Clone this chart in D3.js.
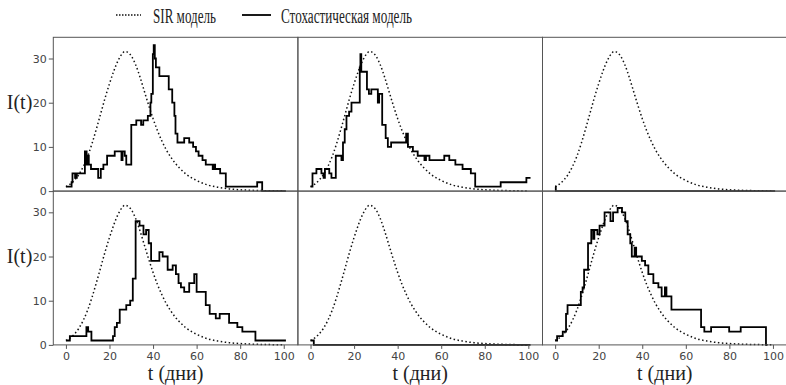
<html>
<head>
  <meta charset="utf-8">
  <script src="https://d3js.org/d3.v7.min.js"></script>
  <style>
    body { margin: 0; background: #fff; }
    .tick text { font-family: "DejaVu Sans", sans-serif; font-size: 11px; fill: #444; }
    .tick line { stroke: #555; }
    .lbl { font-family: "Liberation Serif", "Times New Roman", serif; font-size: 20px; fill: #222; }
  </style>
</head>
<body>
<div id="chart"></div>
<script>

  // SIR model curve, same in every panel
  var sirT = [0, 2, 4, 6, 8, 10, 12, 14, 16, 18, 20, 22, 24, 26, 27, 28, 30, 32, 34, 36, 38, 40,
              42, 44, 46, 48, 50, 52, 55, 60, 65, 70, 75, 80, 85, 90, 95, 100];
  var sirI = [1.0, 1.6, 2.5, 3.8, 5.6, 7.9, 10.8, 14.1, 17.6, 21.1, 24.3, 27.2, 29.6, 31.2, 31.6, 31.5, 30.6, 28.6, 25.8, 22.6, 19.4, 16.4,
              13.7, 11.4, 9.4, 7.8, 6.4, 5.3, 3.9, 2.4, 1.4, 0.85, 0.5, 0.3, 0.18, 0.11, 0.06, 0.04];

  // stochastic runs as [t, I] step points
  var run1 = [[0,1],[2.6,2],[3,4],[4.2,3],[5,4],[8.7,9],[9.5,6],[10,8],[10.5,6],[11.5,5],[14.8,3],[16,5],[17.2,6],[18.9,8],
              [22.4,9],[25.5,7],[26,9],[27,8],[27.7,6],[30,15],[32.3,16],[34.5,15],[35.5,16],[37.6,17],[38.8,20],[39.2,22],
              [39.9,31],[40.3,33],[40.8,30],[41.3,28],[42.9,26],[47.2,23],[48.8,20],[49.8,17],[50.3,13],[51.2,11],[54.3,12],
              [56.6,11],[58.4,10],[59.7,9],[60.9,8],[62.7,7],[64.2,6],[67.4,5],[68,6],[68.5,5],[70.8,4],[73.4,1],[87.8,2],
              [90.1,0],[101,0]];
  var run2 = [[0,1],[0.9,4],[2.7,5],[5,4],[6,3],[6.6,5],[8.6,4],[9.6,3],[11.6,8],[14.2,7],[14.9,11],[15.7,14],[16.5,17],
              [17.7,18],[18.8,20],[22.6,28],[22.9,31],[23.3,27],[25.9,23],[26.8,22],[27.9,23],[30.9,20],[31.5,22],[32.9,15],
              [34.5,12],[35.5,10],[37,11],[43.9,13],[44.7,10],[47,9],[49.2,8],[52.3,7],[53,8],[54.6,7],[61.4,8],[63.7,7],
              [66.5,6],[69.8,5],[73.6,4],[75.6,1],[87.3,2],[99.1,3],[101,3]];
  var run3 = [[0,1],[0.3,0],[101,0]];
  var run4 = [[0,1],[1.8,2],[9.4,4],[10.2,3],[11.7,1],[21.6,2],[22.4,4],[23.4,5],[24.7,8],[27.7,9],[29.5,10],[30.7,15],
              [32,28],[33.8,27],[35.6,25],[36.8,26],[38,23],[39.1,19],[42.9,21],[44.4,20],[46.7,17],[49,18],[50.5,16],
              [51.7,14],[52.8,13],[54.3,12],[56.6,14],[58.9,16],[60,12],[64.2,9],[66,7],[68.8,6],[70.6,7],[74.9,5],
              [78.7,4],[81,3],[87,1],[101,1]];
  var run5 = [[0,1],[1.5,0],[101,0]];
  var run6 = [[0,1],[0.9,2],[3.5,3],[5,7],[5.7,9],[11.8,12],[12.6,13],[13.3,17],[15.1,23],[16.6,26],[17.5,24],[18,26],
              [19.4,25],[20.4,27],[22.7,30],[25.4,28],[26.6,30],[28.7,31],[30.7,30],[32.2,28],[33.3,25],[34.5,23],
              [35.2,20],[36.5,22],[37.2,20],[39.8,19],[41.3,18],[42.8,16],[45.1,14],[47.4,13],[48.9,11],[50.4,13],
              [51.1,11],[53.4,8],[67,4],[68.5,3],[71.6,4],[79.9,3],[85.2,4],[96.8,0],[97.5,0]];
  var runs = [run1, run2, run3, run4, run5, run6];

  var xTicks = [0, 20, 40, 60, 80, 100];
  var yTicks = [0, 10, 20, 30];
  var legendLabels = ['SIR модель', 'Стохастическая модель'];
  var xLabel = 't (дни)';
  var yLabel = 'I(t)';

  // layout
  var W = 786, H = 385;
  var marginLeft = 53.3, marginTop = 37.3;
  var pw = 244.6, ph = 153.8;

  var svg = d3.select('#chart').append('svg')
              .attr('width', W)
              .attr('height', H);

  var x = d3.scaleLinear().domain([-5.8, 106.5]).range([0, pw]);
  var y = d3.scaleLinear().domain([0, 34.8]).range([ph, 0]);

  var sirLine = d3.line()
                  .x(function(d) { return x(d[0]); })
                  .y(function(d) { return y(d[1]); })
                  .curve(d3.curveMonotoneX);
  var stepLine = d3.line()
                   .x(function(d) { return x(d[0]); })
                   .y(function(d) { return y(d[1]); })
                   .curve(d3.curveStepAfter);

  var sirData = sirT.map(function(t, i) { return [t, sirI[i]]; });

  runs.forEach(function(run, k) {
    var row = Math.floor(k / 3), col = k % 3;
    var g = svg.append('g')
               .attr('transform', 'translate(' + (marginLeft + col * pw) + ',' + (marginTop + row * ph) + ')');

    g.append('clipPath').attr('id', 'clip' + k)
      .append('rect').attr('x', 0).attr('y', -1).attr('width', pw).attr('height', ph + 2);

    g.append('path')
      .attr('clip-path', 'url(#clip' + k + ')')
      .attr('d', sirLine(sirData))
      .style('fill', 'none')
      .style('stroke', '#111')
      .style('stroke-width', 1.5)
      .style('stroke-dasharray', '1.5,2.5');

    g.append('path')
      .attr('clip-path', 'url(#clip' + k + ')')
      .attr('d', stepLine(run))
      .style('fill', 'none')
      .style('stroke', '#000')
      .style('stroke-width', 1.8);

    g.append('rect')
      .attr('width', pw).attr('height', ph)
      .style('fill', 'none')
      .style('stroke', '#555')
      .style('stroke-width', 1);

    if (col === 0) {
      var ya = g.append('g')
                .call(d3.axisLeft(y).tickValues(yTicks).tickSize(4.5).tickPadding(2));
      ya.select('.domain').remove();
      g.append('text')
        .attr('class', 'lbl')
        .attr('x', -21)
        .attr('y', 72)
        .attr('text-anchor', 'end')
        .text(yLabel);
    }
    if (row === 1) {
      var xa = g.append('g')
                .attr('transform', 'translate(0,' + ph + ')')
                .call(d3.axisBottom(x).tickValues(xTicks).tickSize(4).tickPadding(3.5));
      xa.select('.domain').remove();
      g.append('text')
        .attr('class', 'lbl')
        .attr('x', pw / 2)
        .attr('y', ph + 35)
        .attr('text-anchor', 'middle')
        .text(xLabel);
    }
  });

  // legend
  var leg = svg.append('g');
  leg.append('line')
     .attr('x1', 116).attr('x2', 141).attr('y1', 15).attr('y2', 15)
     .style('stroke', '#111').style('stroke-width', 1.5).style('stroke-dasharray', '1.5,1.5');
  leg.append('text')
     .attr('class', 'lbl')
     .attr('x', 153).attr('y', 22.5)
     .attr('textLength', 63).attr('lengthAdjust', 'spacingAndGlyphs')
     .style('font-size', '20.5px')
     .text(legendLabels[0]);
  leg.append('line')
     .attr('x1', 242).attr('x2', 271).attr('y1', 15).attr('y2', 15)
     .style('stroke', '#000').style('stroke-width', 1.8);
  leg.append('text')
     .attr('class', 'lbl')
     .attr('x', 281).attr('y', 22.5)
     .attr('textLength', 131).attr('lengthAdjust', 'spacingAndGlyphs')
     .style('font-size', '20.5px')
     .text(legendLabels[1]);

</script>
</body>
</html>
